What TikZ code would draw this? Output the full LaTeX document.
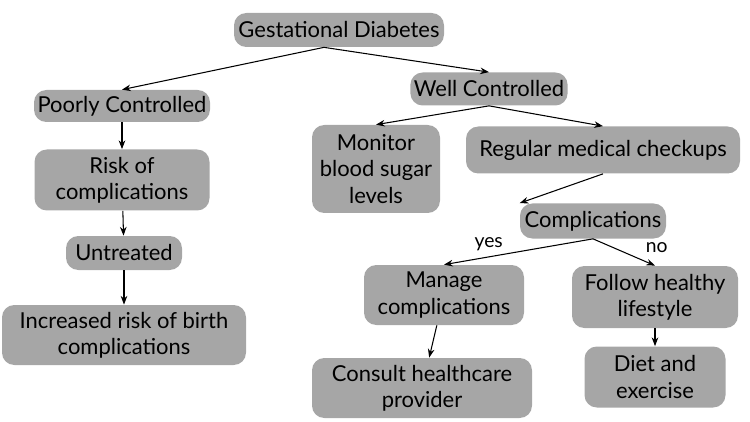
\documentclass[tikz,border=0pt]{standalone}
\usepackage{fontspec}
\setmainfont{Lato}
\usetikzlibrary{arrows.meta,positioning}
\tikzset{
  box/.style={fill=black!35, rounded corners=7pt, align=center, inner sep=2pt,
    font=\fontsize{12.5}{15}\selectfont},
  link/.style={-{Stealth[length=5pt]}, semithick}
}
\begin{document}
\begin{tikzpicture}[x=0.02cm,y=-0.02cm]
      \useasboundingbox (0,0) rectangle (750,422);

      \node[box, minimum width=210*0.02cm, minimum height=34*0.02cm] (gest) at (339,30) {Gestational Diabetes};
      \node[box, minimum width=176*0.02cm, minimum height=32*0.02cm] (poor) at (122,106) {Poorly Controlled};
      \node[box, minimum width=154*0.02cm, minimum height=33*0.02cm] (well) at (489,89) {Well Controlled};
      \node[box, minimum width=175*0.02cm, minimum height=61*0.02cm] (risk) at (122,180) {Risk of\\complications};
      \node[box, minimum width=116*0.02cm, minimum height=34*0.02cm] (untr) at (124,253) {Untreated};
      \node[box, minimum width=244*0.02cm, minimum height=60*0.02cm] (incr) at (124,335) {Increased risk of birth\\complications};
      \node[box, minimum width=128*0.02cm, minimum height=88*0.02cm] (moni) at (376,169) {Monitor\\blood sugar\\levels};
      \node[box, minimum width=274*0.02cm, minimum height=47*0.02cm] (regu) at (603,150) {Regular medical checkups};
      \node[box, minimum width=146*0.02cm, minimum height=35*0.02cm] (comp) at (593,221) {Complications};
      \node[box, minimum width=160*0.02cm, minimum height=60*0.02cm] (mana) at (444,295) {Manage\\complications};
      \node[box, minimum width=166*0.02cm, minimum height=62*0.02cm] (foll) at (655,297) {Follow healthy\\lifestyle};
      \node[box, minimum width=220*0.02cm, minimum height=60*0.02cm] (cons) at (422,388) {Consult healthcare\\provider};
      \node[box, minimum width=141*0.02cm, minimum height=61*0.02cm] (diet) at (655,377) {Diet and\\exercise};

      \draw[link] (gest.south) ++(-15,0) -- (poor.north);
      \draw[link] (gest.south) ++(-15,0) -- (well.north);
      \draw[link] (poor) -- (risk);
      \draw[link] (risk) -- (untr);
      \draw[link] (untr) -- (incr);
      \draw[link] (well.south) -- (moni.north);
      \draw[link] (well.south) -- (regu.north);
      \draw[link] (regu.south) -- (comp.north west);
      \draw[link] (comp.south) -- node[above, pos=0.7, font=\fontsize{11}{13}\selectfont] {yes} (mana.north);
      \draw[link] (comp.south) -- node[above right, pos=0.75, font=\fontsize{11}{13}\selectfont] {no} (foll.north);
      \draw[link] (mana) -- (cons);
      \draw[link] (foll) -- (diet);
    \end{tikzpicture}
\end{document}
